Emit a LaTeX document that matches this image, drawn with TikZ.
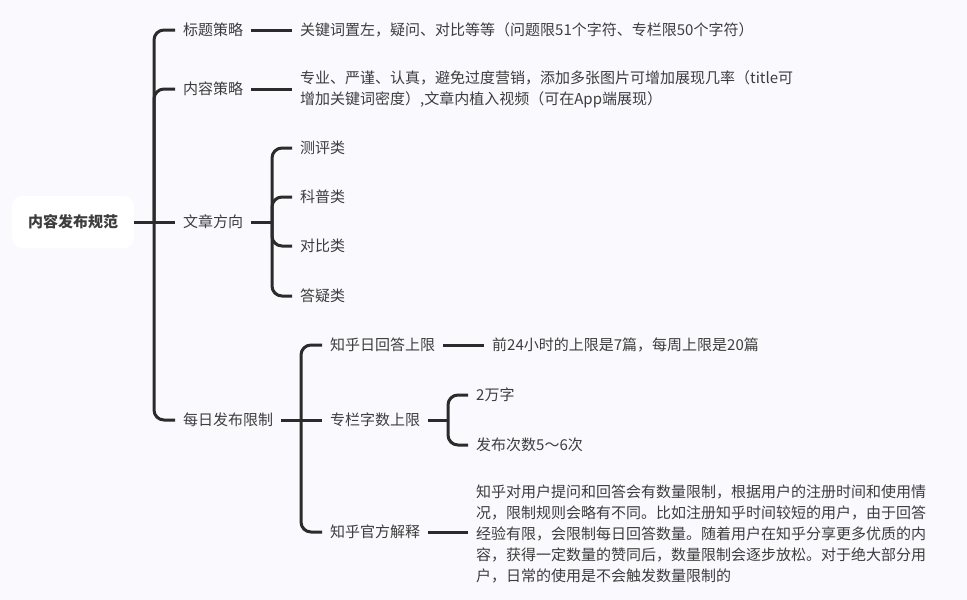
\documentclass[tikz,border=0pt]{standalone}
\usepackage{fontspec}
\setmainfont{Noto Sans CJK SC}
\usepackage{tikz}
\definecolor{bgcol}{HTML}{FAF9FE}
\definecolor{linecol}{HTML}{2B2B2B}
\definecolor{txtcol}{HTML}{3D3D3D}

\begin{document}
\begin{tikzpicture}[x=1pt, y=-1pt,
  topic/.style={anchor=west, inner xsep=8pt, inner ysep=0pt, text height=13.2pt, text depth=1.8pt,
    font=\fontsize{15}{21}\selectfont, text=txtcol},
  para/.style={anchor=west, inner xsep=8pt, inner ysep=0pt, align=left,
    font=\fontsize{15}{21}\selectfont, text=txtcol},
  rootbox/.style={fill=white, rounded corners=10pt, minimum width=122pt, minimum height=52pt,
    font=\fontsize{15}{21}\selectfont\bfseries, text=txtcol},
  link/.style={draw=linecol, line width=3pt},
  branch/.style={link, rounded corners=10pt}]
\fill[bgcol] (0,0) rectangle (967,600);
\useasboundingbox (0,0) rectangle (967,600);
\node[rootbox] (root) at (73,222) {内容发布规范};
\node[topic] (btcl) at (175,30) {标题策略};
\node[topic] (nrcl) at (175,89) {内容策略};
\node[topic] (wzfx) at (175,222) {文章方向};
\node[topic] (mrxz) at (175,420) {每日发布限制};
\node[topic] (btcl-t) at (292,30) {关键词置左，疑问、对比等等（问题限51个字符、专栏限50个字符）};
\node[para] (nrcl-t) at (292,89) {专业、严谨、认真，避免过度营销，添加多张图片可增加展现几率（title可\\增加关键词密度）,文章内植入视频（可在App端展现）};
\node[topic] (cpl) at (292,148) {测评类};
\node[topic] (kpl) at (292,197) {科普类};
\node[topic] (dbl) at (292,246) {对比类};
\node[topic] (dyl) at (292,296) {答疑类};
\node[topic] (zhrd) at (322,345) {知乎日回答上限};
\node[topic] (zlzs) at (322,420) {专栏字数上限};
\node[topic] (zhgf) at (322,532) {知乎官方解释};
\node[topic] (zhrd-t) at (484,345) {前24小时的上限是7篇，每周上限是20篇};
\node[topic] (zlzs-a) at (468,395) {2万字};
\node[topic] (zlzs-b) at (468,445) {发布次数5～6次};
\node[para] (zhgf-t) at (468,534) {知乎对用户提问和回答会有数量限制，根据用户的注册时间和使用情\\况，限制规则会略有不同。比如注册知乎时间较短的用户，由于回答\\经验有限，会限制每日回答数量。随着用户在知乎分享更多优质的内\\容，获得一定数量的赞同后，数量限制会逐步放松。对于绝大部分用\\户，日常的使用是不会触发数量限制的};
\coordinate (root-fork) at (154,222);
\coordinate (wzfx-fork) at (272,222);
\coordinate (mrxz-fork) at (301,420);
\coordinate (zlzs-fork) at (448,420);
\draw[link] (root.east) -- (wzfx.west);
\draw[branch] (root-fork) |- (btcl.west);
\draw[branch] (root-fork) |- (nrcl.west);
\draw[branch] (root-fork) |- (mrxz.west);
\draw[link] (btcl.east) -- (btcl-t.west);
\draw[link] (nrcl.east) -- (nrcl-t.west);
\draw[link] (wzfx.east) -- (wzfx-fork);
\draw[branch] (wzfx-fork) |- (cpl.west);
\draw[branch] (wzfx-fork) |- (kpl.west);
\draw[branch] (wzfx-fork) |- (dbl.west);
\draw[branch] (wzfx-fork) |- (dyl.west);
\draw[link] (mrxz.east) -- (zlzs.west);
\draw[branch] (mrxz-fork) |- (zhrd.west);
\draw[branch] (mrxz-fork) |- (zhgf.west);
\draw[link] (zhrd.east) -- (zhrd-t.west);
\draw[link] (zlzs.east) -- (zlzs-fork);
\draw[branch] (zlzs-fork) |- (zlzs-a.west);
\draw[branch] (zlzs-fork) |- (zlzs-b.west);
\draw[link] (zhgf.east) -- (zhgf.east -| zhgf-t.west);
\end{tikzpicture}
\end{document}
